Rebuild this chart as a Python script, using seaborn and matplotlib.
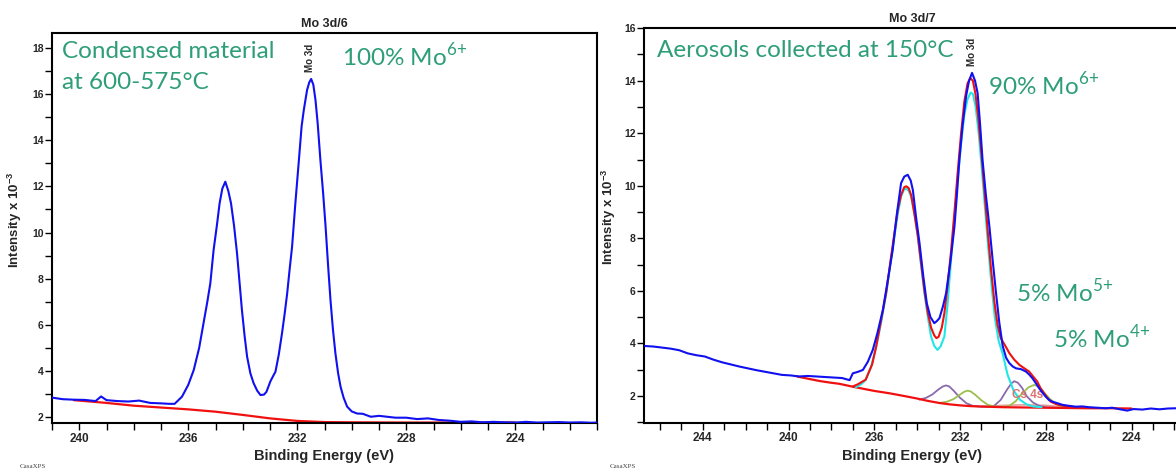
import matplotlib
matplotlib.use("Agg")
import matplotlib.pyplot as plt
import seaborn as sns
from matplotlib.ticker import MultipleLocator

# ---------------- Mo 3d/6 : condensed material ----------------
cond_be = [241.0, 240.6, 240.2, 239.8, 239.4, 239.2, 239.0, 238.6, 238.2, 237.8, 237.4, 237.0,
           236.7, 236.5, 236.23, 236.0, 235.8, 235.6, 235.44, 235.3, 235.19, 235.07, 234.95,
           234.85, 234.75, 234.64, 234.53, 234.43, 234.32, 234.21, 234.1, 234.03, 233.93, 233.84,
           233.72, 233.6, 233.47, 233.35, 233.22, 233.13, 233.05, 232.99, 232.9, 232.8, 232.68,
           232.56, 232.46, 232.37, 232.28, 232.19, 232.07, 231.94, 231.84, 231.76, 231.64, 231.56,
           231.49, 231.41, 231.33, 231.25, 231.15, 231.05, 230.96, 230.87, 230.78, 230.69, 230.6,
           230.5, 230.41, 230.3, 230.17, 230.0, 229.8, 229.6, 229.3, 229.0, 228.7, 228.4, 228.0,
           227.6, 227.2, 226.8, 226.4, 226.0, 225.6, 225.2, 224.8, 224.4, 224.0, 223.6, 223.2,
           222.8, 222.4, 222.0, 221.6, 221.2, 221.0]
cond_cps = [2.85, 2.78, 2.76, 2.75, 2.70, 2.90, 2.74, 2.70, 2.68, 2.72, 2.62, 2.60,
            2.58, 2.58, 2.89, 3.40, 4.04, 5.00, 6.07, 7.00, 7.80, 9.24, 10.30,
            11.26, 11.90, 12.20, 11.80, 11.26, 10.30, 9.10, 7.60, 6.64, 5.50, 4.62,
            3.90, 3.47, 3.15, 2.96, 2.98, 3.10, 3.35, 3.54, 3.75, 3.97, 4.70,
            5.63, 6.50, 7.36, 8.40, 9.38, 11.26, 13.13, 14.60, 15.30, 16.17, 16.50,
            16.65, 16.40, 15.73, 14.72, 13.13, 11.70, 10.25, 8.60, 7.07, 5.80, 4.77,
            3.90, 3.32, 2.85, 2.46, 2.25, 2.16, 2.15, 2.02, 2.06, 2.02, 1.98, 1.98,
            1.92, 1.95, 1.88, 1.85, 1.80, 1.82, 1.78, 1.80, 1.78, 1.77, 1.80, 1.77,
            1.78, 1.79, 1.77, 1.78, 1.76, 1.77]
cond_bg_be = [240.2, 239.0, 238.0, 237.0, 236.0, 235.0, 234.0, 233.0, 232.0, 231.0, 230.0,
              228.0, 226.0, 224.0]
cond_bg = [2.74, 2.62, 2.50, 2.42, 2.34, 2.24, 2.10, 1.95, 1.84, 1.79, 1.78, 1.77, 1.77, 1.77]

# ---------------- Mo 3d/7 : aerosols collected at 150 °C ----------------
aer_be = [246.7, 246.3, 245.9, 245.5, 245.1, 244.7, 244.3, 243.9, 243.5, 243.1, 242.7, 242.3,
          241.9, 241.5, 241.1, 240.7, 240.3, 239.9, 239.5, 239.1, 238.7, 238.3, 237.9, 237.5,
          237.15, 237.0, 236.75, 236.53, 236.3, 236.07, 235.85, 235.6, 235.37, 235.14, 234.95,
          234.75, 234.6, 234.44, 234.3, 234.2, 234.05, 233.89, 233.72, 233.55, 233.38, 233.2,
          233.08, 232.96, 232.8, 232.65, 232.45, 232.26, 232.15, 232.03, 231.88, 231.72, 231.58,
          231.44, 231.3, 231.18, 231.07, 230.95, 230.8, 230.63, 230.47, 230.32, 230.17, 230.01,
          229.85, 229.7, 229.54, 229.39, 229.16, 228.93, 228.78, 228.62, 228.46, 228.31, 228.15,
          228.0, 227.85, 227.69, 227.45, 227.22, 226.9, 226.6, 226.3, 225.98, 225.6, 225.2,
          224.9, 224.6, 224.2, 223.9, 223.5, 223.1, 222.7, 222.3, 221.9]
aer_cps = [3.90, 3.88, 3.84, 3.80, 3.74, 3.62, 3.55, 3.50, 3.38, 3.28, 3.20, 3.12,
           3.05, 2.98, 2.92, 2.86, 2.80, 2.78, 2.74, 2.76, 2.74, 2.72, 2.70, 2.68,
           2.60, 2.86, 2.92, 2.99, 3.30, 3.75, 4.40, 5.27, 6.40, 7.56, 8.90,
           10.10, 10.35, 10.42, 10.20, 9.84, 8.80, 7.82, 6.60, 5.53, 5.00, 4.77,
           4.85, 4.96, 5.40, 5.91, 7.10, 8.45, 9.60, 10.99, 12.30, 13.40, 14.00,
           14.30, 14.00, 13.53, 12.40, 10.99, 9.70, 8.45, 7.10, 5.91, 4.80, 3.90,
           3.45, 3.25, 3.12, 3.05, 3.02, 2.93, 2.82, 2.67, 2.48, 2.29, 2.12,
           1.97, 1.85, 1.78, 1.72, 1.66, 1.62, 1.59, 1.60, 1.57, 1.55, 1.53,
           1.55, 1.50, 1.44, 1.50, 1.48, 1.52, 1.49, 1.52, 1.53]

aer_bg_be = [239.6, 239.0, 238.5, 238.0, 237.62, 237.0, 236.5, 236.0, 235.29, 234.5, 234.0,
             233.5, 232.96, 232.5, 232.0, 231.5, 230.8, 230.0, 229.0, 228.0, 227.0, 226.0,
             225.0, 224.0]
aer_bg = [2.74, 2.64, 2.56, 2.50, 2.46, 2.35, 2.27, 2.19, 2.10, 1.98, 1.90,
          1.81, 1.73, 1.68, 1.64, 1.61, 1.59, 1.57, 1.56, 1.55, 1.54, 1.53, 1.53, 1.52]

env_be = [237.0, 236.75, 236.4, 236.1, 235.91, 235.7, 235.44, 235.25, 235.06, 234.9, 234.75,
          234.6, 234.51, 234.4, 234.28, 234.12, 233.97, 233.8, 233.66, 233.5, 233.35, 233.2,
          233.1, 233.0, 232.85, 232.73, 232.58, 232.42, 232.26, 232.11, 231.95, 231.8, 231.65,
          231.52, 231.4, 231.28, 231.15, 231.0, 230.85, 230.7, 230.55, 230.4, 230.25, 230.1,
          229.85, 229.7, 229.47, 229.23, 229.0, 228.78, 228.6, 228.4, 228.25, 228.08, 227.92,
          227.77, 227.55, 227.38, 227.0, 226.5]
env_cps = [2.36, 2.45, 2.62, 3.20, 3.88, 4.80, 5.95, 7.10, 8.20, 9.10, 9.65,
           9.95, 9.98, 9.92, 9.65, 8.90, 8.10, 6.95, 6.00, 5.15, 4.60, 4.30,
           4.20, 4.25, 4.60, 5.15, 6.20, 7.50, 9.00, 10.50, 12.00, 13.20, 13.90,
           14.10, 14.00, 13.50, 12.60, 11.20, 9.70, 8.20, 6.80, 5.60, 4.70, 4.20,
           3.85, 3.63, 3.38, 3.18, 3.05, 2.93, 2.75, 2.55, 2.30, 2.10, 1.92,
           1.78, 1.70, 1.66, 1.60, 1.56]

mo6_be = [236.86, 236.6, 236.4, 236.15, 235.91, 235.68, 235.44, 235.25, 235.06, 234.9, 234.75,
          234.62, 234.51, 234.4, 234.28, 234.12, 233.97, 233.82, 233.66, 233.5, 233.35, 233.2,
          233.05, 232.9, 232.73, 232.58, 232.42, 232.26, 232.11, 231.95, 231.8, 231.65, 231.5,
          231.4, 231.27, 231.13, 230.98, 230.83, 230.68, 230.53, 230.38, 230.2, 230.01, 229.78,
          229.5, 229.2, 228.9, 228.6, 228.2]
mo6_cps = [2.33, 2.45, 2.61, 3.10, 3.88, 4.80, 5.91, 7.00, 8.07, 8.95, 9.59,
           9.85, 9.90, 9.82, 9.59, 8.90, 8.07, 7.00, 5.91, 5.00, 4.26, 3.90,
           3.75, 3.90, 4.26, 5.50, 7.18, 8.80, 10.23, 11.60, 12.70, 13.30, 13.55,
           13.50, 13.00, 12.00, 10.60, 9.10, 7.60, 6.20, 5.00, 4.10, 3.60, 2.80,
           2.20, 1.85, 1.68, 1.60, 1.57]

mo5_be = [233.9, 233.6, 233.3, 233.0, 232.8, 232.65, 232.5, 232.3, 232.0, 231.7, 231.4, 231.0,
          230.7, 230.4, 230.1, 229.8, 229.6, 229.47, 229.3, 229.1, 228.9, 228.6, 228.3, 228.0,
          227.6]
mo5_cps = [1.86, 1.92, 2.05, 2.25, 2.36, 2.40, 2.36, 2.20, 1.93, 1.72, 1.62, 1.59,
           1.59, 1.63, 1.85, 2.25, 2.48, 2.56, 2.50, 2.30, 2.00, 1.75, 1.62, 1.57,
           1.55]

mo4_be = [232.9, 232.6, 232.3, 232.0, 231.8, 231.65, 231.5, 231.3, 231.0, 230.7, 230.4, 230.0,
          229.7, 229.4, 229.1, 228.8, 228.54, 228.3, 228.1, 227.8, 227.5, 227.2, 226.9]
mo4_cps = [1.74, 1.78, 1.88, 2.05, 2.16, 2.20, 2.17, 2.05, 1.83, 1.66, 1.60, 1.58,
           1.62, 1.80, 2.10, 2.33, 2.42, 2.35, 2.15, 1.88, 1.68, 1.58, 1.55]

cs4s_be = [231.0, 230.0, 229.0, 228.0, 227.0]
cs4s_cps = [1.60, 1.64, 1.66, 1.64, 1.57]

BLUE = "#1010f0"
RED = "#f01010"
CYAN = "#22e6e6"
PURPLE = "#8a6aae"
OLIVE = "#9cbf4e"
CS_COL = "#d9736f"
GREEN_TXT = "#2e9e78"

sns.set_style("ticks")
plt.rcParams["font.family"] = ["Liberation Sans", "DejaVu Sans"]

W, H = 1176, 470
fig = plt.figure(figsize=(W / 100, H / 100), dpi=100)
ax1 = fig.add_axes([52 / W, 1 - 423 / H, 545 / W, 390 / H])
ax2 = fig.add_axes([644 / W, 1 - 422.7 / H, 536 / W, 395 / H])


def line(ax, x, y, color, lw=1.5, alpha=1.0, z=2):
    sns.lineplot(x=x, y=y, ax=ax, color=color, linewidth=lw, alpha=alpha,
                 estimator=None, sort=False, legend=False, zorder=z)


# left panel curves
line(ax1, cond_bg_be, cond_bg, RED, lw=1.6, z=2)
line(ax1, cond_be, cond_cps, BLUE, lw=1.5, z=3)

# right panel curves
line(ax2, cs4s_be, cs4s_cps, CS_COL, lw=1.2, alpha=0.7, z=2)
line(ax2, mo5_be, mo5_cps, PURPLE, lw=1.3, z=2)
line(ax2, mo4_be, mo4_cps, OLIVE, lw=1.3, z=2)
line(ax2, aer_bg_be, aer_bg, RED, lw=1.6, z=3)
line(ax2, mo6_be, mo6_cps, CYAN, lw=1.5, z=3)
line(ax2, env_be, env_cps, RED, lw=1.5, z=4)
line(ax2, aer_be, aer_cps, BLUE, lw=1.5, z=5)

for ax, xlim, ylim, title in [
    (ax1, (241.0, 221.0), (1.75, 18.64), "Mo 3d/6"),
    (ax2, (246.74, 221.74), (0.98, 16.02), "Mo 3d/7"),
]:
    ax.set_xlim(*xlim)
    ax.set_ylim(*ylim)
    ax.xaxis.set_major_locator(MultipleLocator(4))
    ax.xaxis.set_minor_locator(MultipleLocator(1))
    ax.yaxis.set_major_locator(MultipleLocator(2))
    ax.yaxis.set_minor_locator(MultipleLocator(1))
    ax.tick_params(which="both", direction="out", length=5, width=1.0, color="black")
    ax.tick_params(axis="x", which="both", labelsize=8.5, pad=2)
    ax.tick_params(axis="y", which="both", labelsize=7.5, pad=1)
    for lab in ax.get_xticklabels() + ax.get_yticklabels():
        lab.set_fontweight("bold")
    for sp in ax.spines.values():
        sp.set_visible(True)
        sp.set_color("black")
        sp.set_linewidth(1.5)
    ax.set_xlabel("Binding Energy (eV)", fontsize=10.5, fontweight="bold", labelpad=3)
    ax.set_ylabel(r"Intensity x 10$^{\mathregular{-3}}$", fontsize=9.5, fontweight="bold")
    ax.set_title(title, fontsize=9, fontweight="bold", pad=4)
    ax.grid(False)

ax1.yaxis.set_label_coords(-0.051, 0.52)
ax2.yaxis.set_label_coords(-0.0485, 0.52)

# peak labels
ax1.text(231.55, 16.95, "Mo 3d", rotation=90, fontsize=7, fontweight="bold",
         ha="center", va="bottom")
ax2.text(231.44, 14.55, "Mo 3d", rotation=90, fontsize=7, fontweight="bold",
         ha="center", va="bottom")
ax2.text(228.85, 2.05, "Cs 4s", fontsize=8.5, fontweight="bold", color=CS_COL,
         ha="center", va="center")

# annotations
tfam = ["Lato", "DejaVu Sans"]
kw = dict(color=GREEN_TXT, family=tfam, fontsize=17.5, ha="left", va="center")
ax1.text(0.018, 0.952, "Condensed material", transform=ax1.transAxes, **kw)
ax1.text(0.018, 0.873, "at 600-575°C", transform=ax1.transAxes, **kw)
ax1.text(0.532, 0.941, r"100% Mo$^{\mathregular{6{+}}}$", transform=ax1.transAxes, **kw)
ax2.text(0.025, 0.943, "Aerosols collected at 150°C", transform=ax2.transAxes, **kw)
ax2.text(0.641, 0.855, r"90% Mo$^{\mathregular{6{+}}}$", transform=ax2.transAxes, **kw)
ax2.text(0.694, 0.33, r"5% Mo$^{\mathregular{5{+}}}$", transform=ax2.transAxes, **kw)
ax2.text(0.763, 0.215, r"5% Mo$^{\mathregular{4{+}}}$", transform=ax2.transAxes, **kw)

# program stamp
fig.text(20 / W, 1 - 466 / H, "CasaXPS", fontsize=5, family="Liberation Serif",
         color="#444444", ha="left", va="center")
fig.text(610 / W, 1 - 466 / H, "CasaXPS", fontsize=5, family="Liberation Serif",
         color="#444444", ha="left", va="center")

fig.savefig("out.png", dpi=100)
